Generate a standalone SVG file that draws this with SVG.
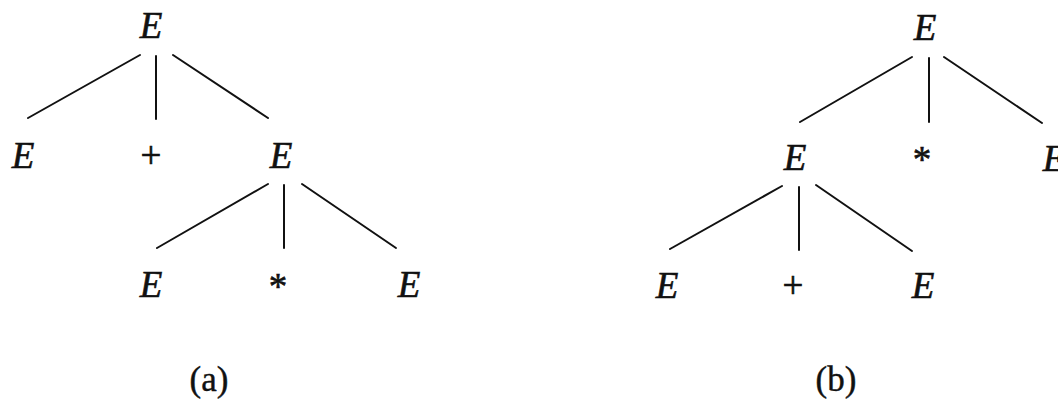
<svg xmlns="http://www.w3.org/2000/svg" width="1058" height="402" viewBox="0 0 1058 402">
<style>
.bg{fill:#ffffff}
.sym{font-family:"Liberation Serif","Times New Roman",serif;font-size:37px;fill:#111;stroke:#111;stroke-width:0.6;text-anchor:middle}
.it{font-style:italic}
.cap{font-family:"Liberation Serif","Times New Roman",serif;font-size:35px;fill:#111;stroke:#111;stroke-width:0.4;text-anchor:middle}
.edge{stroke:#111;stroke-width:2;fill:none;stroke-linecap:round}
</style>
<rect class="bg" x="0" y="0" width="1058" height="402"/>
<g id="connectors">
<line class="edge" x1="140" y1="55" x2="28" y2="118"/>
<line class="edge" x1="156" y1="56" x2="156" y2="119"/>
<line class="edge" x1="173" y1="55" x2="268" y2="118"/>
<line class="edge" x1="268" y1="184" x2="157" y2="248"/>
<line class="edge" x1="284" y1="185" x2="284" y2="248"/>
<line class="edge" x1="302" y1="184" x2="396" y2="248"/>
<line class="edge" x1="912" y1="57" x2="800" y2="122"/>
<line class="edge" x1="929" y1="58" x2="929" y2="122"/>
<line class="edge" x1="944" y1="57" x2="1042" y2="123"/>
<line class="edge" x1="782" y1="186" x2="670" y2="249"/>
<line class="edge" x1="799" y1="187" x2="799" y2="250"/>
<line class="edge" x1="816" y1="185" x2="912" y2="251"/>
</g>
<g id="a-root"><text class="sym it" x="151" y="38">E</text></g>
<g id="a-E1"><text class="sym it" x="23" y="168">E</text></g>
<g id="a-plus"><text class="sym" x="151" y="168">+</text></g>
<g id="a-E2"><text class="sym it" x="281" y="168">E</text></g>
<g id="a-E3"><text class="sym it" x="151" y="297">E</text></g>
<g id="a-star"><text class="sym" x="278" y="299">*</text></g>
<g id="a-E4"><text class="sym it" x="409" y="297">E</text></g>
<g id="b-root"><text class="sym it" x="925" y="40">E</text></g>
<g id="b-E1"><text class="sym it" x="795" y="170">E</text></g>
<g id="b-star"><text class="sym" x="922" y="172">*</text></g>
<g id="b-E2"><text class="sym it" x="1054" y="171">E</text></g>
<g id="b-E3"><text class="sym it" x="667" y="298">E</text></g>
<g id="b-plus"><text class="sym" x="793" y="298">+</text></g>
<g id="b-E4"><text class="sym it" x="923" y="298">E</text></g>
<g id="label-a"><text class="cap" x="209" y="391">(a)</text></g>
<g id="label-b"><text class="cap" x="836" y="391">(b)</text></g>
</svg>
